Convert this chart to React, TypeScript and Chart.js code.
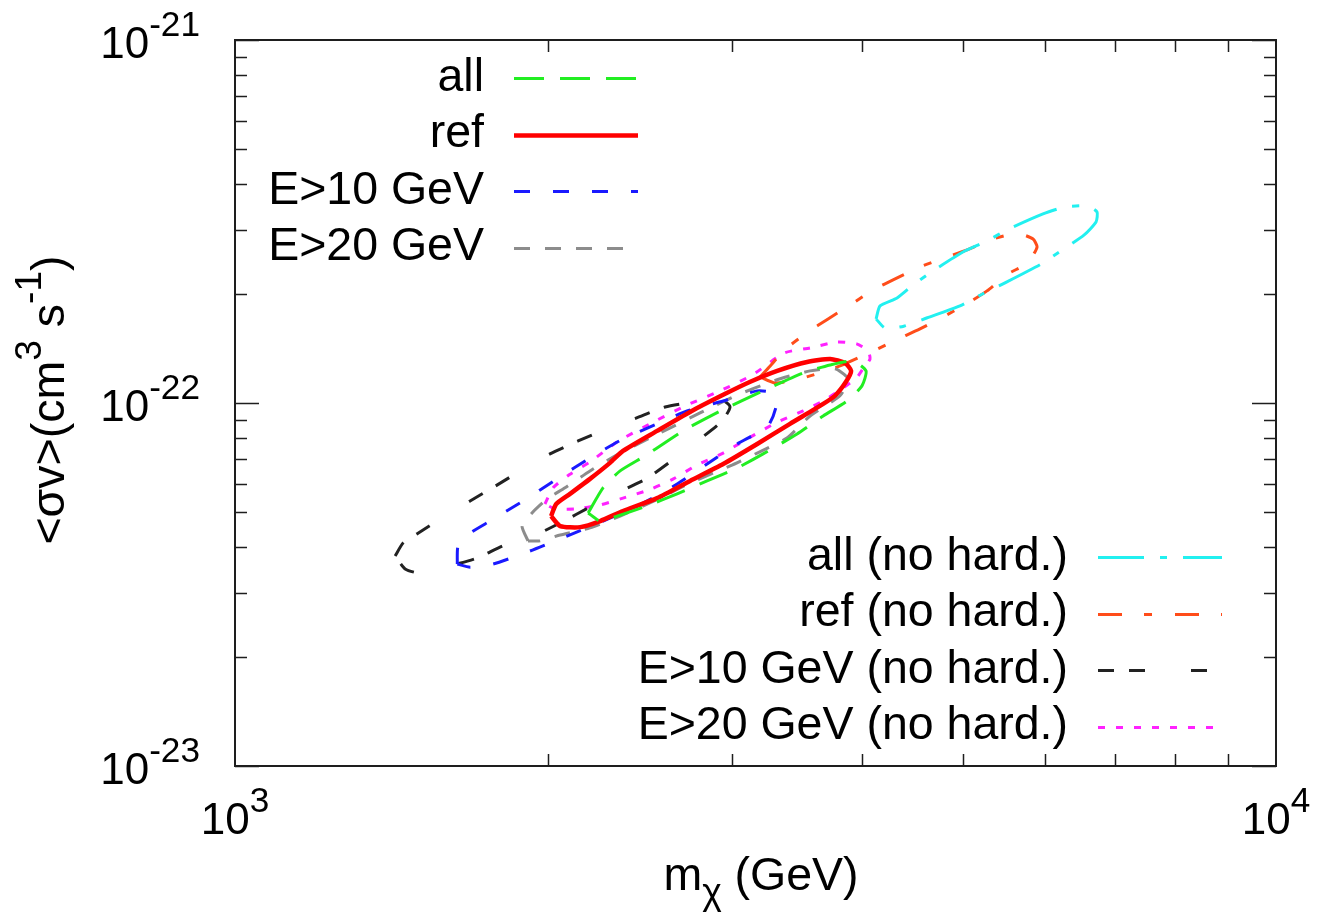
import React, { useEffect, useRef } from "react";
import { Chart, registerables } from "chart.js";

Chart.register(...registerables);

// Closed confidence contours in the (m_chi, <sigma v>) plane.
// Masses in GeV, cross sections in units of 1e-22 cm^3 s^-1.
const SIGMA_UNIT = 1e-22;

const allMass = [2184, 2257, 2344, 2477, 2694, 2924, 3216, 3514, 3730, 3924, 4038, 4002, 3872, 3673, 3467, 3216, 3036, 2841, 2659, 2488, 2328, 2243, 2184];
const allSigma = [0.498, 0.584, 0.650, 0.715, 0.838, 0.950, 1.080, 1.210, 1.273, 1.305, 1.226, 1.115, 1.013, 0.921, 0.822, 0.724, 0.662, 0.610, 0.562, 0.521, 0.488, 0.473, 0.498];

const refMass = [2012, 2035, 2098, 2193, 2292, 2359, 2544, 2736, 2944, 3126, 3318, 3545, 3730, 3855, 3907, 3863, 3770, 3673, 3413, 3174, 2944, 2736, 2544, 2359, 2243, 2146, 2053, 2012];
const refSigma = [0.488, 0.527, 0.562, 0.618, 0.684, 0.738, 0.838, 0.945, 1.053, 1.144, 1.226, 1.297, 1.322, 1.289, 1.226, 1.144, 1.047, 0.994, 0.876, 0.771, 0.679, 0.610, 0.547, 0.504, 0.473, 0.455, 0.458, 0.488];

const e10Mass = [1635, 1638, 1682, 1758, 1891, 2039, 2193, 2359, 2544, 2718, 2944, 3174, 3281, 3310, 3250, 3036, 2841, 2659, 2466, 2257, 2084, 1920, 1770, 1682, 1635];
const e10Sigma = [0.360, 0.404, 0.438, 0.473, 0.537, 0.618, 0.706, 0.796, 0.876, 0.951, 1.013, 1.080, 1.067, 0.981, 0.864, 0.771, 0.679, 0.598, 0.530, 0.473, 0.430, 0.391, 0.360, 0.353, 0.360];

const e20Mass = [1912, 1887, 1929, 1994, 2075, 2193, 2344, 2561, 2797, 3057, 3340, 3568, 3770, 3881, 3812, 3568, 3390, 3174, 2990, 2736, 2561, 2344, 2193, 2053, 1964, 1912];
const e20Sigma = [0.417, 0.458, 0.498, 0.544, 0.584, 0.650, 0.728, 0.827, 0.939, 1.060, 1.166, 1.226, 1.242, 1.166, 1.047, 0.921, 0.801, 0.728, 0.671, 0.602, 0.547, 0.488, 0.453, 0.433, 0.417, 0.417];

const allNhMass = [4129, 4165, 4325, 4471, 4652, 5003, 5277, 5516, 5973, 6271, 6584, 6731, 6716, 6543, 6171, 5949, 5467, 5230, 4971, 4624, 4390, 4211, 4129];
const allNhSigma = [1.704, 1.851, 1.947, 2.103, 2.283, 2.606, 2.795, 3.000, 3.319, 3.469, 3.491, 3.360, 3.154, 2.905, 2.590, 2.415, 2.130, 2.000, 1.851, 1.717, 1.628, 1.610, 1.704];

const refNhMass = [3194, 3267, 3371, 3553, 3713, 3898, 4120, 4287, 4550, 4809, 5049, 5312, 5528, 5677, 5843, 5895, 5830, 5737, 5528, 5277, 5082, 4788, 4550, 4335, 4102, 3812, 3491, 3303, 3194];
const refNhSigma = [1.180, 1.265, 1.400, 1.570, 1.704, 1.862, 2.063, 2.183, 2.371, 2.511, 2.641, 2.813, 2.905, 2.923, 2.831, 2.692, 2.527, 2.400, 2.269, 2.036, 1.900, 1.726, 1.600, 1.500, 1.391, 1.265, 1.166, 1.136, 1.180];

const e10NhMass = [1425, 1451, 1499, 1591, 1682, 1785, 1899, 2007, 2136, 2277, 2428, 2589, 2797, 2937, 2989, 2937, 2797, 2617, 2483, 2318, 2193, 2061, 1944, 1809, 1708, 1609, 1506, 1457, 1425];
const e10NhSigma = [0.379, 0.412, 0.438, 0.488, 0.537, 0.594, 0.662, 0.724, 0.786, 0.848, 0.908, 0.975, 1.013, 1.020, 0.975, 0.892, 0.796, 0.688, 0.618, 0.562, 0.517, 0.470, 0.433, 0.404, 0.374, 0.356, 0.340, 0.349, 0.379];

const e20NhMass = [1985, 2021, 2094, 2193, 2328, 2522, 2718, 2924, 3141, 3371, 3568, 3788, 3955, 4056, 4074, 4011, 3955, 3838, 3673, 3514, 3318, 3105, 2944, 2779, 2637, 2505, 2359, 2243, 2130, 2030, 1985];
const e20NhSigma = [0.527, 0.584, 0.634, 0.688, 0.781, 0.886, 0.987, 1.080, 1.195, 1.374, 1.418, 1.473, 1.455, 1.391, 1.322, 1.242, 1.173, 1.100, 1.013, 0.951, 0.886, 0.796, 0.728, 0.675, 0.618, 0.578, 0.547, 0.524, 0.511, 0.511, 0.527];

// Axis ranges and tick values
const X_MIN = 1e3;
const X_MAX = 1e4;
const Y_MIN = 1e-23;
const Y_MAX = 1e-21;
const xMajorTicks = [1e3, 1e4];
const xMajorExps = ["3", "4"];
const xMinorTicks = [2e3, 3e3, 4e3, 5e3, 6e3, 7e3, 8e3, 9e3];
const yMajorTicks = [1e-23, 1e-22, 1e-21];
const yMajorExps = ["-23", "-22", "-21"];
const yMinorTicks = [2e-23, 3e-23, 4e-23, 5e-23, 6e-23, 7e-23, 8e-23, 9e-23, 2e-22, 3e-22, 4e-22, 5e-22, 6e-22, 7e-22, 8e-22, 9e-22];

type Series = {
  label: string;
  mass: number[];
  sigma: number[];
  color: string;
  dash: number[];
  width: number;
  box: number; // which legend block the entry goes in
};

const series: Series[] = [
  { label: "all", mass: allMass, sigma: allSigma, color: "#22ee22", dash: [30, 16], width: 3, box: 0 },
  { label: "ref", mass: refMass, sigma: refSigma, color: "#ff0000", dash: [], width: 4.5, box: 0 },
  { label: "E>10 GeV", mass: e10Mass, sigma: e10Sigma, color: "#1a1aff", dash: [16, 23], width: 3, box: 0 },
  { label: "E>20 GeV", mass: e20Mass, sigma: e20Sigma, color: "#8c8c8c", dash: [16, 15], width: 3, box: 0 },
  { label: "all (no hard.)", mass: allNhMass, sigma: allNhSigma, color: "#22f0f0", dash: [46, 16, 7, 16], width: 3, box: 1 },
  { label: "ref (no hard.)", mass: refNhMass, sigma: refNhSigma, color: "#ff4d1a", dash: [24, 22, 8, 23], width: 3, box: 1 },
  { label: "E>10 GeV (no hard.)", mass: e10NhMass, sigma: e10NhSigma, color: "#222222", dash: [16, 15, 16, 46], width: 3, box: 1 },
  { label: "E>20 GeV (no hard.)", mass: e20NhMass, sigma: e20NhSigma, color: "#ff22ff", dash: [7, 11], width: 3, box: 1 },
];

const FONT = '"Liberation Sans", Arial, Helvetica, sans-serif';
const TICK_FS = 44;
const TEXT_FS = 46.5;
const SUP = 0.8;

function setFont(ctx: CanvasRenderingContext2D, size: number) {
  ctx.font = `${size}px ${FONT}`;
}

// Draws text made of normal / raised / lowered runs.
function drawRuns(
  ctx: CanvasRenderingContext2D,
  runs: [string, number][],
  x: number,
  y: number,
  align: "left" | "center" | "right",
  fs: number
) {
  const widths = runs.map(([t, s]) => {
    setFont(ctx, s === 0 ? fs : fs * SUP);
    return ctx.measureText(t).width;
  });
  const total = widths.reduce((a, b) => a + b, 0);
  let cx = align === "left" ? x : align === "center" ? x - total / 2 : x - total;
  ctx.textAlign = "left";
  ctx.textBaseline = "alphabetic";
  runs.forEach(([t, s], i) => {
    setFont(ctx, s === 0 ? fs : fs * SUP);
    const dy = s > 0 ? -fs * 0.5 : s < 0 ? fs * 0.3 : 0;
    ctx.fillText(t, cx, y + dy);
    cx += widths[i];
  });
}

const framePlugin = {
  id: "gnuFrame",
  afterDraw(chart: Chart) {
    const ctx = chart.ctx;
    const area = chart.chartArea;
    const xs = chart.scales.x;
    const ys = chart.scales.y;
    ctx.save();

    // border box
    ctx.strokeStyle = "#1e1e1e";
    ctx.lineWidth = 2;
    ctx.setLineDash([]);
    ctx.strokeRect(area.left, area.top, area.right - area.left, area.bottom - area.top);

    // inward ticks on all four sides
    ctx.lineWidth = 1.5;
    ctx.beginPath();
    const minorLen = 12;
    const majorLen = 24;
    xMinorTicks.forEach((v) => {
      const px = Math.round(xs.getPixelForValue(v)) + 0.5;
      ctx.moveTo(px, area.bottom);
      ctx.lineTo(px, area.bottom - minorLen);
      ctx.moveTo(px, area.top);
      ctx.lineTo(px, area.top + minorLen);
    });
    yMinorTicks.forEach((v) => {
      const py = Math.round(ys.getPixelForValue(v)) + 0.5;
      ctx.moveTo(area.left, py);
      ctx.lineTo(area.left + minorLen, py);
      ctx.moveTo(area.right, py);
      ctx.lineTo(area.right - minorLen, py);
    });
    yMajorTicks.forEach((v) => {
      const py = Math.round(ys.getPixelForValue(v)) + 0.5;
      ctx.moveTo(area.left, py);
      ctx.lineTo(area.left + majorLen, py);
      ctx.moveTo(area.right, py);
      ctx.lineTo(area.right - majorLen, py);
    });
    ctx.stroke();

    ctx.fillStyle = "#000000";

    // y tick labels
    yMajorTicks.forEach((v, i) => {
      const py = ys.getPixelForValue(v);
      drawRuns(ctx, [["10", 0], [yMajorExps[i], 1]], area.left - 35, py + 18, "right", TICK_FS);
    });

    // x tick labels
    xMajorTicks.forEach((v, i) => {
      const px = xs.getPixelForValue(v);
      drawRuns(ctx, [["10", 0], [xMajorExps[i], 1]], px, area.bottom + 68, "center", TICK_FS);
    });

    // axis titles
    drawRuns(ctx, [["m", 0], ["\u03c7", -1], [" (GeV)", 0]], 761, 890, "center", TEXT_FS);

    ctx.save();
    ctx.translate(64, 400);
    ctx.rotate(-Math.PI / 2);
    drawRuns(ctx, [["<\u03c3v>(cm", 0], ["3", 1], [" s", 0], ["-1", 1], [")", 0]], 0, 0, "center", TEXT_FS);
    ctx.restore();

    // legend blocks
    const boxes = [
      { textRight: 484, lineFrom: 514, lineTo: 638, top: 78 },
      { textRight: 1068, lineFrom: 1098, lineTo: 1222, top: 557 },
    ];
    const rowStep = 56.5;
    const rowCount = [0, 0];
    chart.data.datasets.forEach((ds: any, i: number) => {
      const s = series[i];
      const b = boxes[s.box];
      const y = b.top + rowStep * rowCount[s.box]++;
      setFont(ctx, TEXT_FS);
      ctx.textAlign = "right";
      ctx.textBaseline = "middle";
      ctx.fillStyle = "#000000";
      ctx.fillText(ds.label, b.textRight, y);
      ctx.strokeStyle = ds.borderColor;
      ctx.lineWidth = ds.borderWidth;
      ctx.setLineDash(ds.borderDash || []);
      ctx.lineDashOffset = 0;
      ctx.lineCap = "butt";
      ctx.beginPath();
      ctx.moveTo(b.lineFrom, Math.round(y) + 0.5);
      ctx.lineTo(b.lineTo, Math.round(y) + 0.5);
      ctx.stroke();
    });
    ctx.setLineDash([]);
    ctx.restore();
  },
};

export default function App() {
  const canvasRef = useRef<HTMLCanvasElement | null>(null);

  useEffect(() => {
    const canvas = canvasRef.current;
    if (!canvas) return;
    const chart = new Chart(canvas, {
      type: "scatter",
      data: {
        datasets: series.map((s) => ({
          label: s.label,
          data: s.mass.map((m, i) => ({ x: m, y: s.sigma[i] * SIGMA_UNIT })),
          showLine: true,
          borderColor: s.color,
          backgroundColor: s.color,
          borderWidth: s.width,
          borderDash: s.dash,
          borderCapStyle: "butt",
          borderJoinStyle: "round",
          pointRadius: 0,
          pointHoverRadius: 0,
          fill: false,
          tension: 0.2,
        })),
      },
      options: {
        animation: false,
        responsive: false,
        events: [],
        layout: { padding: { left: 235, top: 40, right: 43, bottom: 149 } },
        plugins: { legend: { display: false }, tooltip: { enabled: false } },
        scales: {
          x: { type: "logarithmic", min: X_MIN, max: X_MAX, display: false },
          y: { type: "logarithmic", min: Y_MIN, max: Y_MAX, display: false },
        },
      },
      plugins: [framePlugin],
    });
    return () => chart.destroy();
  }, []);

  return (
    <div style={{ position: "absolute", left: 0, top: 0, width: 1319, height: 915, background: "#ffffff" }}>
      <canvas ref={canvasRef} width={1319} height={915} style={{ display: "block" }} />
    </div>
  );
}
